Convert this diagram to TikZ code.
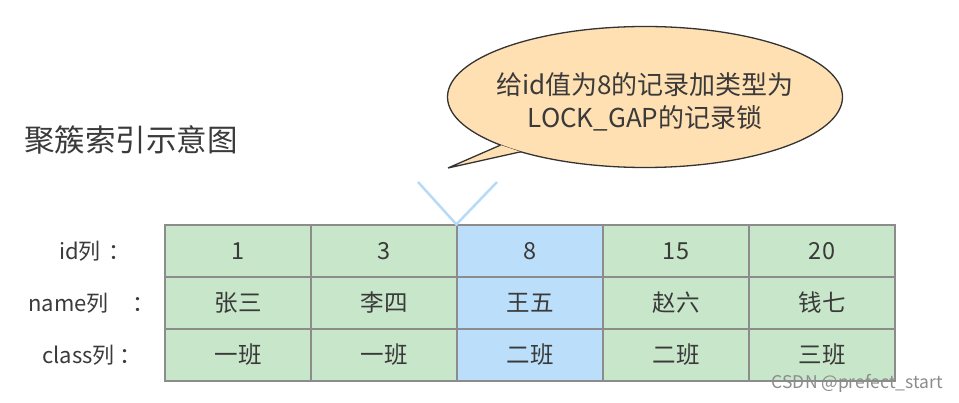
\documentclass[tikz,border=0pt]{standalone}
\usepackage{fontspec}
\setmainfont{Noto Sans CJK SC}
\definecolor{cellgreen}{HTML}{C8E6C9}
\definecolor{cellblue}{HTML}{BBDEFB}
\definecolor{gridgray}{HTML}{8C8C8C}
\definecolor{bubblefill}{HTML}{FFE0B2}
\definecolor{textgray}{HTML}{3A3A3A}
\definecolor{markblue}{HTML}{B7DAF7}
\begin{document}
\begin{tikzpicture}[
x=1pt, y=-1pt,
cell/.style={draw=gridgray, line width=1.2pt, rectangle, minimum width=146pt, minimum height=52pt, inner sep=0pt, text=textgray, font=\fontsize{23.5}{26}\selectfont},
rowlabel/.style={anchor=west, inner sep=0pt, text=textgray, font=\fontsize{22}{25}\selectfont},
bubbleline/.style={draw=black!80, line width=1.3pt, line join=miter},
vmark/.style={draw=markblue, line width=2.5pt}
]
\useasboundingbox (0,0) rectangle (959,403);

% title
\node[anchor=west, inner sep=0pt, text=textgray, font=\fontsize{30.5}{33}\selectfont] (title) at (24,140) {聚簇索引示意图};

% row labels
\node[rowlabel] (lid) at (59,251) {id列\hspace{0.35em}：};
\node[rowlabel] (lname) at (28,303) {name列\hspace{1.1em}：};
\node[rowlabel] (lclass) at (42,355) {class列\hspace{0.2em}：};

% table
\foreach \i/\v/\n/\c/\col in {1/1/张三/一班/cellgreen, 2/3/李四/一班/cellgreen, 3/8/王五/二班/cellblue, 4/15/赵六/二班/cellgreen, 5/20/钱七/三班/cellgreen} {
  \node[cell, fill=\col] (id\i) at ({165+146*(\i-0.5)},251) {\v};
  \node[cell, fill=\col] (name\i) at ({165+146*(\i-0.5)},303) {\n};
  \node[cell, fill=\col] (cls\i) at ({165+146*(\i-0.5)},355) {\c};
}

% lock mark
\coordinate (vl) at (418,182);
\coordinate (vr) at (497,182);
\draw[vmark] (vl) -- (id3.north west) -- (vr);

% speech bubble
\coordinate (notec) at (645,97);
\coordinate (tip) at (448,168);
\coordinate (tb1) at ({645+197.5*cos(137)},{97+70.5*sin(137)});
\coordinate (tb2) at ({645+197.5*cos(129)},{97+70.5*sin(129)});
\draw[bubbleline, fill=bubblefill] (notec) ellipse [x radius=197.5, y radius=70.5];
\fill[bubblefill] (tb1) -- (tip) -- (tb2) -- cycle;
\draw[bubbleline] (tb1) -- (tip) -- (tb2);
\node[align=center, inner sep=0pt, text=textgray, font=\fontsize{26}{33}\selectfont] (notetext) at (645,102) {给id值为8的记录加类型为\\LOCK\_GAP的记录锁};

% watermark
\node[anchor=east, inner sep=0pt, text=black!45, font=\fontsize{17.5}{19}\selectfont] (mark) at (943,383) {CSDN @prefect\_start};
\end{tikzpicture}
\end{document}
